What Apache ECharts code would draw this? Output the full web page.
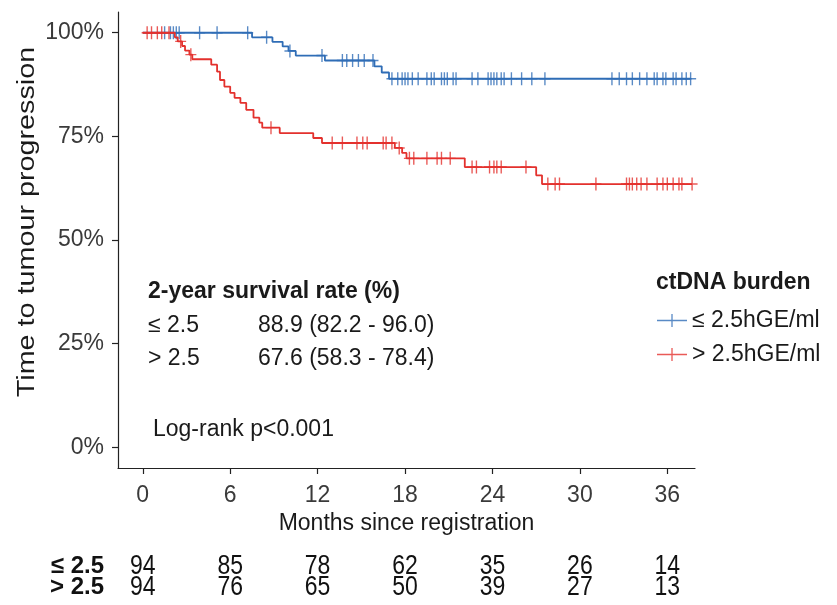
<!DOCTYPE html>
<html>
<head>
<meta charset="utf-8">
<script src="https://cdn.jsdelivr.net/npm/echarts@6/dist/echarts.min.js"></script>
<style>
  html, body { margin: 0; padding: 0; background: #ffffff; }
  #chart { width: 837px; height: 605px; }
</style>
</head>
<body>
<div id="chart"></div>
<script>
// Kaplan-Meier estimates: event times (months) and survival level (%) after each step
const lowTimes  = [0, 7.5, 8.9, 9.6, 10.0, 10.5, 12.5, 15.9, 16.4, 16.9];
const lowSurv   = [100, 98.9, 97.8, 96.7, 95.6, 94.5, 93.3, 91.9, 90.4, 88.9];
const highTimes = [0, 2.2, 2.4, 2.7, 2.9, 3.2, 3.4, 4.7, 5.1, 5.3, 5.6, 6.0, 6.3, 6.7, 7.1, 7.6, 8.0, 8.2, 9.4, 11.7, 12.3, 17.3, 17.8, 18.1, 22.1, 27.0, 27.4];
const highSurv  = [100, 98.9, 97.9, 96.8, 95.7, 94.7, 93.6, 92.3, 90.6, 88.6, 87.0, 85.5, 84.3, 83.1, 81.4, 79.5, 78.3, 77.1, 75.8, 74.6, 73.4, 72.2, 71.0, 69.7, 67.6, 65.6, 63.5];

// Censoring times (months)
const lowCensor  = [1.5, 1.9, 2.1, 2.3, 2.5, 3.9, 5.1, 7.2, 8.5, 10.1, 12.3, 13.7, 14.0, 14.4, 14.8, 15.2, 15.8, 17.1, 17.5, 17.8, 18.0, 18.2, 18.5, 18.9, 19.5, 19.8, 20.0, 20.5, 20.7, 20.9, 21.3, 21.5, 22.6, 23.0, 23.7, 23.9, 24.1, 24.3, 24.6, 24.8, 25.3, 26.0, 26.7, 27.6, 32.2, 32.7, 33.2, 33.6, 34.1, 34.6, 35.1, 35.3, 35.7, 35.9, 36.4, 36.6, 37.0, 37.3, 37.6];
const highCensor = [0.3, 0.6, 1.0, 1.3, 1.8, 2.6, 3.3, 8.8, 13.0, 13.7, 14.7, 15.1, 15.4, 16.5, 16.7, 17.1, 17.6, 18.3, 18.6, 19.5, 20.2, 20.5, 21.1, 22.6, 22.9, 23.8, 24.1, 24.3, 24.6, 26.3, 27.8, 28.3, 28.6, 31.1, 33.2, 33.4, 33.6, 33.9, 34.2, 34.6, 35.3, 35.7, 36.0, 36.4, 36.8, 37.0, 37.7];

// Axis ticks
const monthTicks = [0, 6, 12, 18, 24, 30, 36];
const pctTicks = [0, 25, 50, 75, 100];

// Number at risk table
const riskGroups = ['≤ 2.5', '> 2.5'];
const riskLow  = [94, 85, 78, 62, 35, 26, 14];
const riskHigh = [94, 76, 65, 50, 39, 27, 13];

// Group labels and summary text
const groupNames = ['≤ 2.5hGE/ml', '> 2.5hGE/ml'];
const legendTitle = 'ctDNA burden';
const rateTitle = '2-year survival rate (%)';
const rateRows = [['≤ 2.5', '88.9 (82.2 - 96.0)'], ['> 2.5', '67.6 (58.3 - 78.4)']];
const pValueText = 'Log-rank p<0.001';

const BLUE = '#2f6db6';
const RED = '#e3312d';
const FONT = '"Liberation Sans", Arial, Helvetica, sans-serif';

// survival level in effect at time t (right-continuous step function)
function levelAt(times, surv, t) {
  let v = surv[0];
  for (let i = 0; i < times.length; i++) { if (times[i] <= t) v = surv[i]; }
  return v;
}
function stepData(times, surv, censor) {
  const d = times.map((t, i) => [t, surv[i]]);
  const last = Math.max(...censor);
  d.push([last, levelAt(times, surv, last)]);
  return d;
}
function censorData(times, surv, censor) {
  return censor.map(t => [t, levelAt(times, surv, t)]);
}

const plusSymbol = 'path://M0,6.5L12,6.5L12,8L0,8Z M5.25,0L6.75,0L6.75,14.5L5.25,14.5Z';
const legendIcon = 'path://M0,6.3L32,6.3L32,7.7L0,7.7Z M15.3,0L16.7,0L16.7,14L15.3,14Z';

const riskData = [];
monthTicks.forEach((m, i) => {
  riskData.push([m, 0, riskLow[i]]);
  riskData.push([m, 1, riskHigh[i]]);
});

const chart = echarts.init(document.getElementById('chart'), null, { renderer: 'canvas' });

const textColor = '#1a1a1a';
const tickColor = '#3a3a3a';

chart.setOption({
  animation: false,
  backgroundColor: '#ffffff',
  textStyle: { fontFamily: FONT },
  grid: [
    { left: 118, top: 12, width: 577, height: 456 },
    { left: 118, top: 556, width: 577, height: 42 }
  ],
  xAxis: [
    {
      gridIndex: 0, type: 'value', min: -1.7, max: 37.9,
      axisLine: { show: true, onZero: false, lineStyle: { color: '#222', width: 1.2 } },
      axisTick: { show: true, length: 6, customValues: monthTicks, lineStyle: { color: '#222', width: 1.2 } },
      axisLabel: { customValues: monthTicks, margin: 16, fontSize: 23, color: tickColor, fontFamily: FONT },
      splitLine: { show: false },
      name: 'Months since registration', nameLocation: 'middle', nameGap: 42,
      nameTextStyle: { fontSize: 23, color: textColor, fontFamily: FONT }
    },
    {
      gridIndex: 1, type: 'value', min: -1.7, max: 37.9,
      axisLine: { show: false }, axisTick: { show: false }, axisLabel: { show: false }, splitLine: { show: false }
    }
  ],
  yAxis: [
    {
      gridIndex: 0, type: 'value', min: -5, max: 105,
      axisLine: { show: true, onZero: false, lineStyle: { color: '#222', width: 1.2 } },
      axisTick: { show: true, length: 6, customValues: pctTicks, lineStyle: { color: '#222', width: 1.2 } },
      axisLabel: { customValues: pctTicks, margin: 14, fontSize: 23, color: tickColor, fontFamily: FONT,
                   formatter: v => v + '%' },
      splitLine: { show: false }
    },
    {
      gridIndex: 1, type: 'category', data: riskGroups, inverse: true,
      axisLine: { show: false }, axisTick: { show: false }, splitLine: { show: false },
      axisLabel: { interval: 0, margin: 14, fontSize: 24, fontWeight: 'bold', color: '#111', fontFamily: FONT }
    }
  ],
  legend: {
    orient: 'vertical', left: 652, top: 304, itemWidth: 30, itemHeight: 14, itemGap: 11,
    textStyle: { fontSize: 23, color: textColor, fontFamily: FONT },
    data: [
      { name: groupNames[0], icon: legendIcon, itemStyle: { color: BLUE, opacity: 0.8 } },
      { name: groupNames[1], icon: legendIcon, itemStyle: { color: RED, opacity: 0.8 } }
    ],
    selectedMode: false
  },
  graphic: [
    { type: 'text', x: 28, y: 222, rotation: Math.PI / 2, scaleX: 1.25,
      style: { text: 'Time to tumour progression', fontSize: 23, fontFamily: FONT, fill: textColor, align: 'center', verticalAlign: 'middle' } },
    { type: 'text', x: 656, y: 283,
      style: { text: legendTitle, fontSize: 23, fontWeight: 'bold', fontFamily: FONT, fill: textColor, verticalAlign: 'middle' } },
    { type: 'text', x: 148, y: 292,
      style: { text: rateTitle, fontSize: 23, fontWeight: 'bold', fontFamily: FONT, fill: textColor, verticalAlign: 'middle' } },
    { type: 'text', x: 148, y: 326,
      style: { text: rateRows[0][0], fontSize: 23, fontFamily: FONT, fill: textColor, verticalAlign: 'middle' } },
    { type: 'text', x: 258, y: 326,
      style: { text: rateRows[0][1], fontSize: 23, fontFamily: FONT, fill: textColor, verticalAlign: 'middle' } },
    { type: 'text', x: 148, y: 359,
      style: { text: rateRows[1][0], fontSize: 23, fontFamily: FONT, fill: textColor, verticalAlign: 'middle' } },
    { type: 'text', x: 258, y: 359,
      style: { text: rateRows[1][1], fontSize: 23, fontFamily: FONT, fill: textColor, verticalAlign: 'middle' } },
    { type: 'text', x: 153, y: 430,
      style: { text: pValueText, fontSize: 23, fontFamily: FONT, fill: textColor, verticalAlign: 'middle' } }
  ],
  series: [
    {
      name: groupNames[0], type: 'line', step: 'end', xAxisIndex: 0, yAxisIndex: 0,
      data: stepData(lowTimes, lowSurv, lowCensor), showSymbol: false, symbol: 'none',
      lineStyle: { color: BLUE, width: 1.8 }, itemStyle: { color: BLUE }, z: 2
    },
    {
      name: groupNames[0], type: 'scatter', xAxisIndex: 0, yAxisIndex: 0,
      data: censorData(lowTimes, lowSurv, lowCensor), symbol: plusSymbol, symbolSize: [11, 13],
      itemStyle: { color: BLUE }, z: 3
    },
    {
      name: groupNames[1], type: 'line', step: 'end', xAxisIndex: 0, yAxisIndex: 0,
      data: stepData(highTimes, highSurv, highCensor), showSymbol: false, symbol: 'none',
      lineStyle: { color: RED, width: 1.8 }, itemStyle: { color: RED }, z: 4
    },
    {
      name: groupNames[1], type: 'scatter', xAxisIndex: 0, yAxisIndex: 0,
      data: censorData(highTimes, highSurv, highCensor), symbol: plusSymbol, symbolSize: [11, 13],
      itemStyle: { color: RED }, z: 5
    },
    {
      name: 'risk', type: 'custom', xAxisIndex: 1, yAxisIndex: 1, data: riskData,
      renderItem: function (params, api) {
        const p = api.coord([api.value(0), api.value(1)]);
        return {
          type: 'text', x: p[0], y: p[1], scaleY: 1.22,
          style: { text: String(api.value(2)), fontSize: 23, fontFamily: FONT, fill: '#111',
                   align: 'center', verticalAlign: 'middle' }
        };
      }
    }
  ]
});
</script>
</body>
</html>
